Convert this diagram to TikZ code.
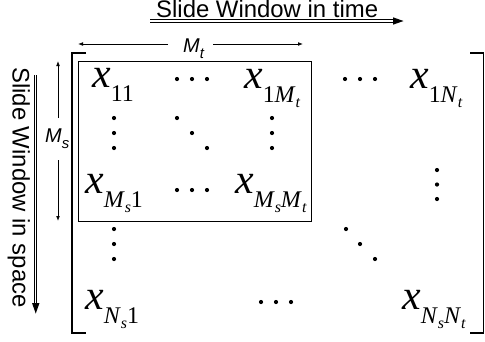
\documentclass[tikz,border=0pt]{standalone}
\usepackage{fontspec}
\setmainfont{Liberation Sans}
\newfontfamily\tms{Liberation Serif}
\usetikzlibrary{arrows.meta}
\newcommand\bx{{\tms\itshape\fontsize{42}{42}\selectfont x}}
\newcommand\sbs[1]{\raisebox{-14bp}{\tms\fontsize{24}{24}\selectfont #1}}
\newcommand\ssb[1]{\raisebox{-5bp}{\tms\itshape\fontsize{16}{16}\selectfont #1}}
\newcommand\ita[1]{\textit{#1}}
\tikzset{
  entry/.style={anchor=base west, inner sep=0pt},
  lbl/.style={anchor=base west, inner sep=0pt, font=\fontsize{20}{20}\selectfont\itshape},
  big/.style={anchor=base west, inner sep=0pt, font=\fontsize{24}{24}\selectfont},
  dimarrow/.style={line width=0.8bp, -{Latex[length=5bp,width=3.8bp]}},
  dbl/.style={double, double distance=1.3bp, line width=0.9bp},
  brk/.style={line width=1.6bp},
  dot/.style={fill=black}
}
\begin{document}
\begin{tikzpicture}[x=1bp,y=-1bp]
\path[use as bounding box] (0,0) rectangle (485,341);

% titles
\node[big] (title) at (156,17.5) {Slide Window in time};
\coordinate (tA) at (150,21);
\coordinate (tB) at (394,21);
\draw[dbl] (tA) -- (tB);
\fill (393,17.3) -- (403.5,21) -- (393,24.7) -- cycle;

\node[big, rotate=-90] (vtitle) at (12.5,67) {Slide Window in space};
\coordinate (vA) at (35.5,75);
\coordinate (vB) at (35.5,304);
\draw[dbl] (vA) -- (vB);
\fill (32,303) -- (35.75,313.5) -- (39.5,303) -- cycle;

% dimension labels
\node[lbl] (Mt) at (183,52) {M\raisebox{-6bp}{\fontsize{15}{15}\selectfont t}};
\coordinate (MtL) at (78,44);
\coordinate (MtR) at (303,44);
\coordinate (MtLs) at (168,44);
\coordinate (MtRs) at (213,44);
\draw[dimarrow] (MtLs) -- (MtL);
\draw[dimarrow] (MtRs) -- (MtR);

\node[lbl] (Ms) at (45,142) {M\raisebox{-6bp}{\fontsize{15}{15}\selectfont s}};
\coordinate (MsT) at (58,61);
\coordinate (MsB) at (58,221);
\coordinate (MsTs) at (58,118);
\coordinate (MsBs) at (58,160);
\draw[dimarrow] (MsTs) -- (MsT);
\draw[dimarrow] (MsBs) -- (MsB);

% brackets
\draw[brk] (86,53) -- (72,53) -- (72,333) -- (86,333);
\draw[brk] (470,53) -- (483.5,53) -- (483.5,333) -- (470,333);

% window box
\draw[line width=1bp] (78,61) rectangle (311,221);

% entries
\node[entry] (x11) at (92,87.5) {\bx\sbs{11}};
\node[entry] (x1Mt) at (244,88) {\bx\sbs{1\ita{M}\ssb{t}}};
\node[entry] (x1Nt) at (410,88) {\bx\sbs{1\ita{N}\ssb{t}}};
\node[entry] (xMs1) at (85,193) {\bx\sbs{\ita{M}\ssb{s}1}};
\node[entry] (xMsMt) at (235,193) {\bx\sbs{\ita{M}\ssb{s}\ita{M}\ssb{t}}};
\node[entry] (xNs1) at (85,309) {\bx\sbs{\ita{N}\ssb{s}1}};
\node[entry] (xNsNt) at (402,309) {\bx\sbs{\ita{N}\ssb{s}\ita{N}\ssb{t}}};

% dots
\foreach \p in {
  (177,79),(192,79),(207,79),
  (345,79),(360,79),(375,79),
  (114,118),(114,133),(114,148),
  (177,118),(192,133),(207,148),
  (272,118),(272,133),(272,148),
  (177,190),(192,190),(207,190),
  (437,170),(437,184.5),(437,199),
  (114,229),(114,244),(114,259),
  (346,229),(360,244),(375,259),
  (261,302),(276,302),(291,302)}
  \fill[dot] \p circle (2.1bp);
\end{tikzpicture}
\end{document}
